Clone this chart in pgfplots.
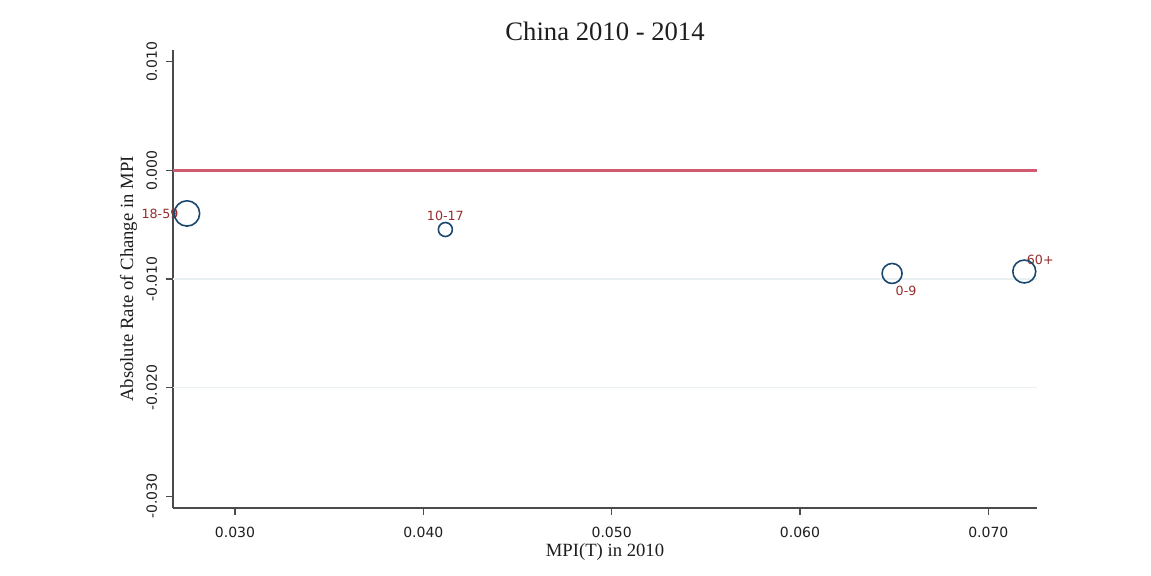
\documentclass[border=0pt]{standalone}
\usepackage{fontspec}
\setmainfont{Liberation Serif}
\newfontfamily\dejavu{DejaVu Sans}
\usepackage{pgfplots}
\pgfplotsset{compat=1.18}
\definecolor{navyc}{RGB}{26,71,111}
\definecolor{labelc}{RGB}{150,45,45}
\definecolor{redc}{RGB}{210,90,110}
\definecolor{axisc}{RGB}{75,75,75}
\definecolor{gridc}{RGB}{232,240,242}
\definecolor{titlec}{RGB}{30,30,30}
\tikzset{lblsty/.style={font=\dejavu\fontsize{9.5}{11}\selectfont, text=labelc, anchor=center, inner sep=0pt}}
\pgfplotsset{ptsty/.style={only marks, mark=o, navyc, mark options={line width=1.2pt}}}

\begin{document}
\begin{tikzpicture}
\useasboundingbox[fill=white] (0,0) rectangle (863.25pt,431.25pt);
\begin{axis}[
  at={(129.75pt,50.25pt)}, anchor=south west,
  scale only axis, width=648pt, height=343.5pt,
  xmin=0.026707, xmax=0.072586,
  ymin=-0.0311, ymax=0.0111,
  clip=false,
  axis x line*=bottom, axis y line*=left,
  axis line style={-, color=axisc, line width=0.9pt},
  tick align=outside, major tick length=5pt,
  tick style={axisc, line width=0.8pt},
  xtick={0.03,0.04,0.05,0.06,0.07},
  xticklabels={0.030,0.040,0.050,0.060,0.070},
  ytick={-0.03,-0.02,-0.01,0,0.01},
  yticklabels={-0.030,-0.020,-0.010,0.000,0.010},
  scaled ticks=false,
  ticklabel style={font=\dejavu\fontsize{10.5}{12}\selectfont, text=titlec},
  xticklabel style={anchor=center, yshift=-13pt},
  yticklabel style={xshift=-11pt, rotate=90, anchor=center},
  title={China 2010 - 2014},
  title style={font=\fontsize{20}{24}\selectfont, text=titlec, at={(axis description cs:0.5,1)}, anchor=center, yshift=7.9pt},
  xlabel={MPI(T) in 2010},
  ylabel={Absolute Rate of Change in MPI},
  label style={font=\fontsize{14}{16}\selectfont, text=titlec},
  xlabel style={at={(axis description cs:0.5,0)}, anchor=center, yshift=-33pt},
  ylabel style={at={(axis description cs:-0.0515,0.5)}, anchor=center},
]
\addplot[gridc, line width=0.8pt] coordinates {(0.026707,-0.01) (0.072586,-0.01)};
\addplot[gridc, line width=0.8pt] coordinates {(0.026707,-0.02) (0.072586,-0.02)};
\addplot[redc, line width=1.8pt] coordinates {(0.026707,0) (0.072586,0)};
% 18-59
\addplot[ptsty, mark size=9.5pt] coordinates {(0.02745,-0.00396)}
  node[lblsty, xshift=-20.25pt] {18-59};
% 10-17
\addplot[ptsty, mark size=5.25pt] coordinates {(0.04117,-0.00544)}
  node[lblsty, yshift=10.5pt] {10-17};
% 0-9
\addplot[ptsty, mark size=7.5pt] coordinates {(0.06489,-0.00949)}
  node[lblsty, xshift=10.5pt, yshift=-12.75pt] {0-9};
% 60+
\addplot[ptsty, mark size=8.6pt] coordinates {(0.07191,-0.00931)}
  node[lblsty, xshift=12pt, yshift=9pt] {60+};
\end{axis}
\end{tikzpicture}
\end{document}
